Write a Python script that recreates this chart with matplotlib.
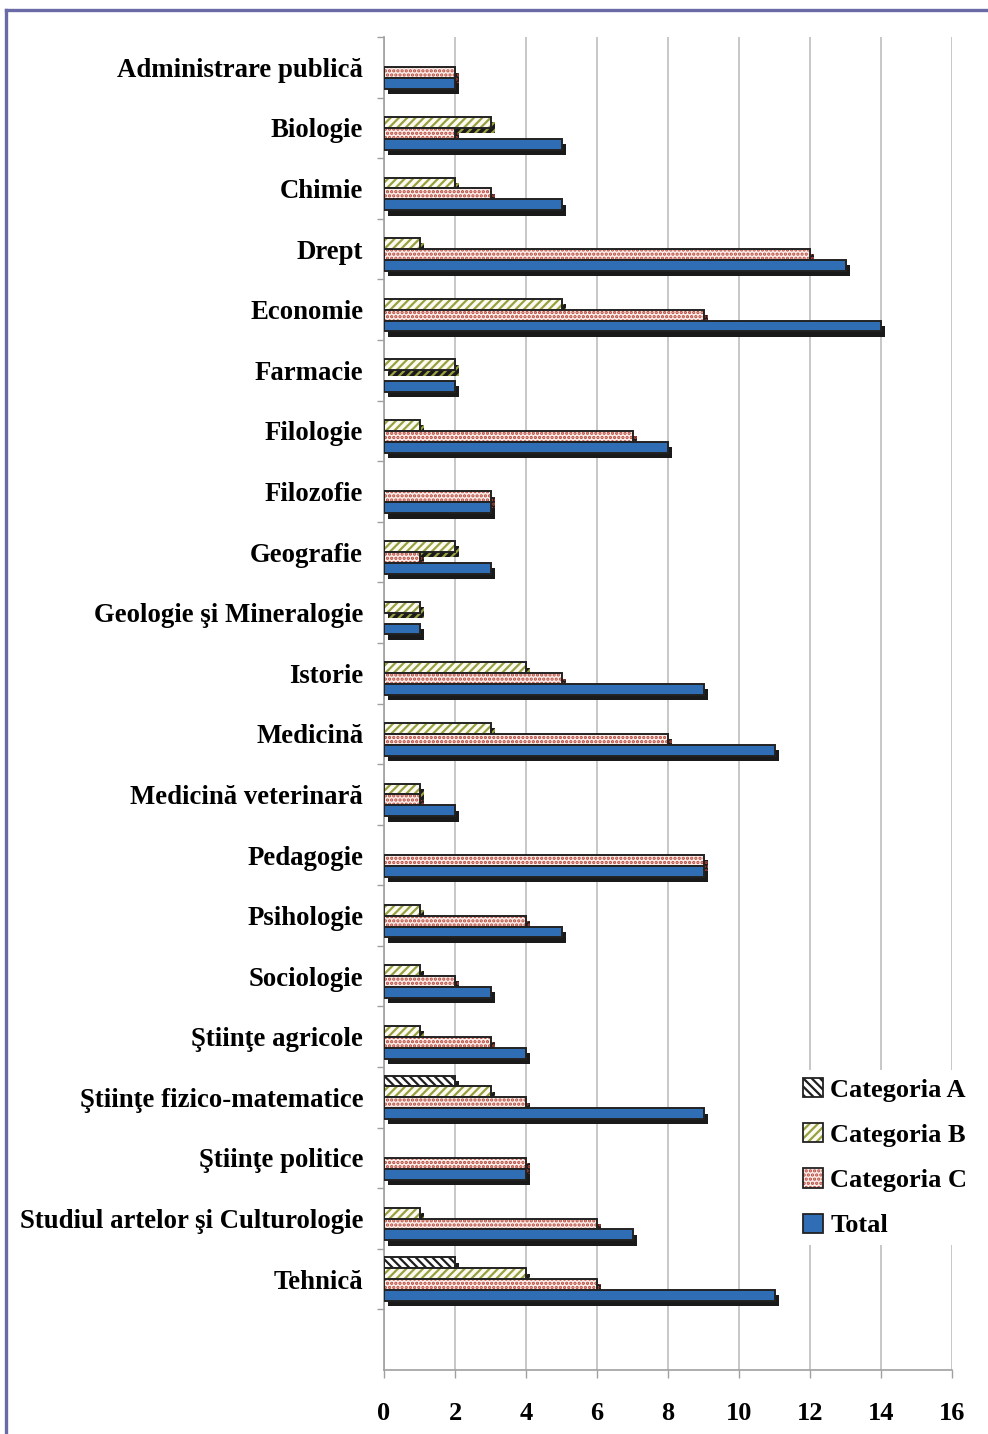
import numpy as np
import matplotlib
matplotlib.use("Agg")
import matplotlib.pyplot as plt
from matplotlib.patches import Patch
from matplotlib.lines import Line2D
import matplotlib.patheffects as pe

plt.rcParams['font.family'] = ['Liberation Serif', 'DejaVu Serif']
plt.rcParams['font.weight'] = 'bold'
plt.rcParams['hatch.linewidth'] = 1.6

categories = [
    "Administrare publică", "Biologie", "Chimie", "Drept", "Economie",
    "Farmacie", "Filologie", "Filozofie", "Geografie", "Geologie şi Mineralogie",
    "Istorie", "Medicină", "Medicină veterinară", "Pedagogie", "Psihologie",
    "Sociologie", "Ştiinţe agricole", "Ştiinţe fizico-matematice",
    "Ştiinţe politice", "Studiul artelor şi Culturologie", "Tehnică",
]
cat_a = [0, 0, 0, 0, 0, 0, 0, 0, 0, 0, 0, 0, 0, 0, 0, 0, 0, 2, 0, 0, 2]
cat_b = [0, 3, 2, 1, 5, 2, 1, 0, 2, 1, 4, 3, 1, 0, 1, 1, 1, 3, 0, 1, 4]
cat_c = [2, 2, 3, 12, 9, 0, 7, 3, 1, 0, 5, 8, 1, 9, 4, 2, 3, 4, 4, 6, 6]
total = [2, 5, 5, 13, 14, 2, 8, 3, 3, 1, 9, 11, 2, 9, 5, 3, 4, 9, 4, 7, 11]

series_names = ["Categoria A", "Categoria B", "Categoria C", "Total"]
series_vals = [cat_a, cat_b, cat_c, total]
faces = ["white", "#FBFBF2", "#FBEDEA", "#2F6DB5"]
hatch_cols = ["#1E1E1E", "#9AA040", "#B8483A", "#2F6DB5"]
hatches = ["\\\\\\\\", "////", "....", None]

fig = plt.figure(figsize=(9.88, 14.34), dpi=100)
ax = fig.add_axes([0.3887, 0.0446, 0.5749, 0.9296])

n = len(categories)
y = np.arange(n)
offsets = [-0.27, -0.09, 0.09, 0.27]
bar_h = 0.18
shadow = [pe.SimplePatchShadow(offset=(3.2, -3.8), shadow_rgbFace="#1A1A1A", alpha=1.0),
          pe.Normal()]

for k, (vals, face, hc, hatch) in enumerate(zip(series_vals, faces, hatch_cols, hatches)):
    vals = np.asarray(vals, dtype=float)
    keep = vals > 0
    yy = y[keep] + offsets[k]
    ww = vals[keep]
    z = 3 + 2 * k
    ax.barh(yy, ww, height=bar_h, color=face, edgecolor=hc, hatch=hatch,
            linewidth=0, zorder=z, path_effects=shadow)
    ax.barh(yy, ww, height=bar_h, fill=False, edgecolor="#222222",
            linewidth=1.4, zorder=z + 1)

ax.set_xlim(0, 16)
ax.set_ylim(n + 0.5, -0.5)
ax.set_xticks(np.arange(0, 17, 2))
ax.set_xticklabels([str(v) for v in range(0, 17, 2)])
ax.set_yticks(y)
ax.set_yticklabels(categories)
ax.set_yticks(np.arange(-0.5, n + 0.5, 1.0), minor=True)

ax.tick_params(axis='y', which='major', length=0, pad=15, labelsize=19.3)
ax.tick_params(axis='y', which='minor', length=5, width=1, color="#A0A0A0", direction='out')
ax.tick_params(axis='x', which='major', length=6, width=1, color="#A0A0A0",
               direction='out', pad=17, labelsize=19)

ax.grid(axis='x', color="#BDBDBD", linewidth=1.2, zorder=0)
ax.set_axisbelow(True)
for side in ["top", "right"]:
    ax.spines[side].set_visible(False)
for side in ["left", "bottom"]:
    ax.spines[side].set_color("#A0A0A0")
    ax.spines[side].set_linewidth(1.2)

handles = []
for name, face, hc, hatch in zip(series_names, faces, hatch_cols, hatches):
    if hatch:
        handles.append(Patch(facecolor=face, edgecolor=hc, hatch=hatch, linewidth=0))
    else:
        handles.append(Patch(facecolor=face, edgecolor=face, linewidth=0))
outlines = [Patch(fill=False, edgecolor="#222222", linewidth=1.3) for _ in handles]
leg = ax.legend([(h, o) for h, o in zip(handles, outlines)], series_names,
                loc="upper left", bbox_to_anchor=(0.700, 0.235),
                frameon=True, fancybox=False, framealpha=1.0,
                facecolor="white", edgecolor="none",
                prop={'size': 19, 'weight': 'bold'},
                handlelength=0.75, handleheight=0.75, handletextpad=0.3,
                labelspacing=0.81, borderpad=0.3)
leg.set_zorder(20)

# frame around the figure
border = "#6A6AA6"
fig.add_artist(Line2D([0.006, 0.006], [0.0, 0.993], transform=fig.transFigure,
                      color=border, linewidth=2.4))
fig.add_artist(Line2D([0.006, 1.0], [0.993, 0.993], transform=fig.transFigure,
                      color=border, linewidth=2.4))

fig.savefig("out.png", dpi=100, facecolor="white")
